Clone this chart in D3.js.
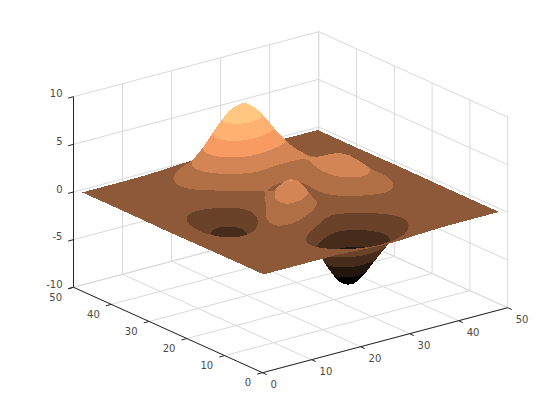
<!DOCTYPE html>
<html>
<head>
<meta charset="utf-8">
<script src="https://cdn.jsdelivr.net/npm/d3@7/dist/d3.min.js"></script>
<style>
html,body{margin:0;padding:0;background:#fff;}
svg{display:block;}
text{font-family:"DejaVu Sans",sans-serif;font-size:10px;fill:#4a4a4a;}
</style>
</head>
<body>
<svg id="chart" width="560" height="420"></svg>
<script>
const xTicks = [0, 10, 20, 30, 40, 50];
const yTicks = [0, 10, 20, 30, 40, 50];
const zTicks = [-10, -5, 0, 5, 10];
const zRange = [-6.55, 8.07];
const bandColours = ["#000000","#23160e","#472c1c","#6a422a","#8e5938","#b16f46","#d48555","#f89b63","#ffb171","#ffc77f"];
// Surface heights: sampled every second grid index (1,3,...,49) along x and y.
const gridX = [1,3,5,7,9,11,13,15,17,19,21,23,25,27,29,31,33,35,37,39,41,43,45,47,49];
const gridY = [1,3,5,7,9,11,13,15,17,19,21,23,25,27,29,31,33,35,37,39,41,43,45,47,49];
const zGrid = [
[0,0,0,0,0,.01,0,-.01,-.03,-.08,-.14,-.20,-.25,-.25,-.22,-.17,-.11,-.06,-.03,-.01,0,0,0,0,0],
[0,0,0,0,.01,.01,0,-.02,-.10,-.22,-.39,-.56,-.68,-.69,-.61,-.46,-.30,-.17,-.08,-.03,-.01,0,0,0,0],
[0,0,0,.01,.01,.02,0,-.07,-.23,-.53,-.91,-1.31,-1.57,-1.60,-1.41,-1.06,-.69,-.38,-.18,-.08,-.03,-.01,0,0,0],
[0,0,.01,.01,.03,.04,.01,-.12,-.44,-.99,-1.74,-2.51,-3.02,-3.10,-2.72,-2.05,-1.32,-.73,-.35,-.14,-.05,-.01,0,0,0],
[0,0,.01,.02,.05,.07,.05,-.13,-.59,-1.45,-2.64,-3.88,-4.76,-4.93,-4.35,-3.27,-2.10,-1.15,-.53,-.20,-.06,-.01,0,0,0],
[0,0,.01,.03,.07,.13,.15,.02,-.46,-1.48,-3.01,-4.70,-5.98,-6.33,-5.64,-4.24,-2.69,-1.42,-.61,-.20,-.04,0,.01,0,0],
[0,0,.01,.03,.08,.19,.33,.39,.15,-.68,-2.19,-4.08,-5.68,-6.33,-5.76,-4.32,-2.64,-1.27,-.44,-.07,.04,.05,.03,.01,0],
[0,-.01,-.01,-.01,.03,.17,.45,.84,1.11,.88,-.14,-1.85,-3.60,-4.60,-4.40,-3.22,-1.74,-.56,.08,.27,.23,.13,.06,.02,.01],
[-.01,-.02,-.06,-.10,-.13,-.04,.30,.98,1.86,2.45,2.22,1.00,-.72,-2.02,-2.22,-1.43,-.27,.58,.88,.77,.50,.26,.11,.04,.01],
[-.02,-.05,-.12,-.25,-.42,-.51,-.28,.49,1.78,3.09,3.63,2.94,1.40,0,-.41,.20,1.18,1.79,1.78,1.35,.82,.41,.18,.06,.02],
[-.03,-.08,-.20,-.44,-.80,-1.16,-1.21,-.60,.80,2.49,3.55,3.30,2.00,.70,.39,1.14,2.20,2.76,2.56,1.88,1.12,.56,.24,.09,.03],
[-.03,-.10,-.27,-.60,-1.14,-1.78,-2.16,-1.84,-.57,1.23,2.56,2.63,1.59,.53,.48,1.50,2.76,3.37,3.09,2.25,1.34,.67,.28,.10,.03],
[-.04,-.11,-.30,-.69,-1.33,-2.14,-2.77,-2.71,-1.65,.06,1.48,1.75,.98,.19,.37,1.57,2.94,3.58,3.27,2.37,1.41,.70,.30,.11,.03],
[-.04,-.11,-.29,-.67,-1.32,-2.16,-2.87,-2.98,-2.15,-.65,.68,1.06,.52,-.03,.28,1.47,2.76,3.36,3.06,2.22,1.32,.66,.28,.10,.03],
[-.03,-.09,-.25,-.57,-1.12,-1.85,-2.49,-2.64,-2.00,-.76,.39,.80,.46,.09,.38,1.34,2.38,2.83,2.56,1.85,1.09,.54,.23,.08,.03],
[-.02,-.07,-.18,-.42,-.82,-1.33,-1.76,-1.78,-1.16,-.05,1.04,1.55,1.42,1.12,1.17,1.65,2.17,2.32,1.99,1.40,.82,.40,.17,.06,.02],
[-.01,-.04,-.11,-.25,-.48,-.74,-.86,-.60,.23,1.51,2.79,3.59,3.69,3.34,2.93,2.66,2.43,2.08,1.58,1.04,.58,.28,.11,.04,.01],
[-.01,-.02,-.06,-.12,-.20,-.22,-.05,.55,1.69,3.29,4.92,6.07,6.39,5.94,5.02,3.97,2.97,2.09,1.35,.79,.41,.19,.07,.03,.01],
[0,-.01,-.02,-.03,-.01,.11,.48,1.27,2.61,4.37,6.20,7.54,8.00,7.48,6.25,4.72,3.25,2.05,1.19,.62,.29,.12,.05,.02,0],
[0,0,0,.01,.07,.24,.65,1.43,2.67,4.29,5.96,7.22,7.68,7.20,5.99,4.45,2.96,1.78,.96,.47,.21,.08,.03,.01,0],
[0,0,.01,.02,.08,.23,.55,1.16,2.10,3.31,4.56,5.51,5.86,5.50,4.57,3.37,2.21,1.29,.68,.32,.13,.05,.02,0,0],
[0,0,0,.02,.06,.15,.36,.74,1.32,2.07,2.84,3.43,3.65,3.43,2.84,2.09,1.36,.79,.41,.19,.08,.03,.01,0,0],
[0,0,0,.01,.03,.08,.19,.39,.69,1.07,1.47,1.77,1.89,1.77,1.47,1.08,.70,.40,.21,.09,.04,.01,0,0,0],
[0,0,0,0,.01,.04,.08,.17,.30,.47,.64,.77,.82,.77,.64,.47,.30,.17,.09,.04,.02,.01,0,0,0],
[0,0,0,0,.01,.01,.03,.06,.11,.17,.23,.28,.30,.28,.23,.17,.11,.06,.03,.01,.01,0,0,0,0]
];

const svg = d3.select("#chart");

// Oblique (orthographic) projection built from linear scales, one per data axis.
const xToPx = d3.scaleLinear().domain([0, 50]).range([0, 245.2]);
const xToPy = d3.scaleLinear().domain([0, 50]).range([0, -65]);
const yToPx = d3.scaleLinear().domain([0, 50]).range([0, -189]);
const yToPy = d3.scaleLinear().domain([0, 50]).range([0, -85.4]);
const zToPy = d3.scaleLinear().domain([-10, 10]).range([372.7, 182.1]);
const originX = 262.5;
const project = (x, y, z) => [originX + xToPx(x) + yToPx(y), zToPy(z) + xToPy(x) + yToPy(y)];

const line = d3.line();
const seg = (a, b, stroke, width, parent) => parent.append("path")
  .attr("d", line([a, b])).attr("fill", "none").attr("stroke", stroke).attr("stroke-width", width);

// Walls and floor grid
const grid = svg.append("g");
const gridColour = "#d9d9d9";
const zLo = zTicks[0], zHi = zTicks[zTicks.length - 1];
const xMax = xTicks[xTicks.length - 1], yMax = yTicks[yTicks.length - 1];
xTicks.forEach(x => {
  seg(project(x, 0, zLo), project(x, yMax, zLo), gridColour, 1, grid);
  seg(project(x, yMax, zLo), project(x, yMax, zHi), gridColour, 1, grid);
});
yTicks.forEach(y => {
  seg(project(0, y, zLo), project(xMax, y, zLo), gridColour, 1, grid);
  seg(project(xMax, y, zLo), project(xMax, y, zHi), gridColour, 1, grid);
});
zTicks.forEach(z => {
  seg(project(0, yMax, z), project(xMax, yMax, z), gridColour, 1, grid);
  seg(project(xMax, yMax, z), project(xMax, 0, z), gridColour, 1, grid);
});

// Mesh refinement: one midpoint between stored samples, for a smooth surface
const nY = gridY.length, nX = gridX.length;
const at = (r, c) => zGrid[Math.max(0, Math.min(nY - 1, r))][Math.max(0, Math.min(nX - 1, c))];
const mid = (a, b, c, d) => (-a + 9 * b + 9 * c - d) / 16;
const fine = d3.range(2 * nY - 1).map(() => new Array(2 * nX - 1));
for (let r = 0; r < nY; r++) for (let c = 0; c < nX; c++) {
  fine[2 * r][2 * c] = at(r, c);
  if (c < nX - 1) fine[2 * r][2 * c + 1] = mid(at(r, c - 1), at(r, c), at(r, c + 1), at(r, c + 2));
}
for (let r = 0; r < nY - 1; r++) for (let c = 0; c < 2 * nX - 1; c++) {
  const pick = i => fine[2 * Math.max(0, Math.min(nY - 1, i))][c];
  fine[2 * r + 1][c] = mid(pick(r - 1), pick(r), pick(r + 1), pick(r + 2));
}
const fx = i => gridX[0] + i * (gridX[1] - gridX[0]) / 2;
const fy = j => gridY[0] + j * (gridY[1] - gridY[0]) / 2;

// Colour bands
const band = d3.scaleQuantize().domain(zRange).range(d3.range(bandColours.length));
const bandLimits = d3.range(bandColours.length + 1).map(
  d3.scaleLinear().domain([0, bandColours.length]).range(zRange));
bandLimits[0] = -Infinity;
bandLimits[bandColours.length] = Infinity;

function clip(poly, level, keepAbove) {
  const out = [];
  for (let i = 0; i < poly.length; i++) {
    const a = poly[i], b = poly[(i + 1) % poly.length];
    const ina = keepAbove ? a[2] >= level : a[2] <= level;
    const inb = keepAbove ? b[2] >= level : b[2] <= level;
    if (ina) out.push(a);
    if (ina !== inb) {
      const t = (level - a[2]) / (b[2] - a[2]);
      out.push([a[0] + t * (b[0] - a[0]), a[1] + t * (b[1] - a[1]), level]);
    }
  }
  return out;
}

const surface = svg.append("g").attr("shape-rendering", "crispEdges");
let curBand = -1, curPath = "";
function flush() {
  if (curPath) surface.append("path").attr("d", curPath).attr("fill", bandColours[curBand]);
  curPath = "";
}
function drawTri(tri) {
  const lo = d3.min(tri, p => p[2]), hi = d3.max(tri, p => p[2]);
  const kLo = band(lo), kHi = band(hi);
  for (let k = kLo; k <= kHi; k++) {
    let poly = tri;
    if (kLo !== kHi) {
      poly = clip(poly, bandLimits[k], true);
      if (poly.length) poly = clip(poly, bandLimits[k + 1], false);
    }
    if (poly.length < 3) continue;
    const pts = poly.map(p => project(p[0], p[1], p[2]));
    if (d3.polygonArea(pts) < 0) pts.reverse();
    if (k !== curBand) { flush(); curBand = k; }
    curPath += "M" + pts.map(p => p[0].toFixed(2) + "," + p[1].toFixed(2)).join("L") + "Z";
  }
}
// Far to near: the viewer looks from the low-x, low-y corner.
for (let j = fine.length - 2; j >= 0; j--) {
  for (let i = fine[0].length - 2; i >= 0; i--) {
    const p00 = [fx(i), fy(j), fine[j][i]];
    const p10 = [fx(i + 1), fy(j), fine[j][i + 1]];
    const p01 = [fx(i), fy(j + 1), fine[j + 1][i]];
    const p11 = [fx(i + 1), fy(j + 1), fine[j + 1][i + 1]];
    drawTri([p11, p01, p10]);
    drawTri([p00, p10, p01]);
  }
}
flush();

// Axes
const axes = svg.append("g");
const axisColour = "#262626";
const tickLen = 1.1;
seg(project(0, yMax, zLo), project(0, yMax, zHi), axisColour, 1, axes);
seg(project(0, 0, zLo), project(0, yMax, zLo), axisColour, 1, axes);
seg(project(0, 0, zLo), project(xMax, 0, zLo), axisColour, 1, axes);
zTicks.forEach(z => seg(project(0, yMax, z), project(-tickLen, yMax, z), axisColour, 1, axes));
yTicks.forEach(y => seg(project(0, y, zLo), project(-tickLen, y, zLo), axisColour, 1, axes));
xTicks.forEach(x => seg(project(x, 0, zLo), project(x, -tickLen, zLo), axisColour, 1, axes));

// Tick labels (a layer of its own, so the glyphs get plain grey antialiasing)
const labels = svg.append("g").attr("opacity", 0.995);
zTicks.forEach(z => {
  const p = project(0, yMax, z);
  labels.append("text").attr("x", p[0] - 11).attr("y", p[1] + 0.5)
    .attr("text-anchor", "end").text(z);
});
yTicks.forEach(y => {
  const p = project(0, y, zLo);
  labels.append("text").attr("x", p[0] - 11.5).attr("y", p[1] + 13.5)
    .attr("text-anchor", "end").text(y);
});
xTicks.forEach(x => {
  const p = project(x, 0, zLo);
  labels.append("text").attr("x", p[0] + 8).attr("y", p[1] + 15)
    .attr("text-anchor", "start").text(x);
});
</script>
</body>
</html>
